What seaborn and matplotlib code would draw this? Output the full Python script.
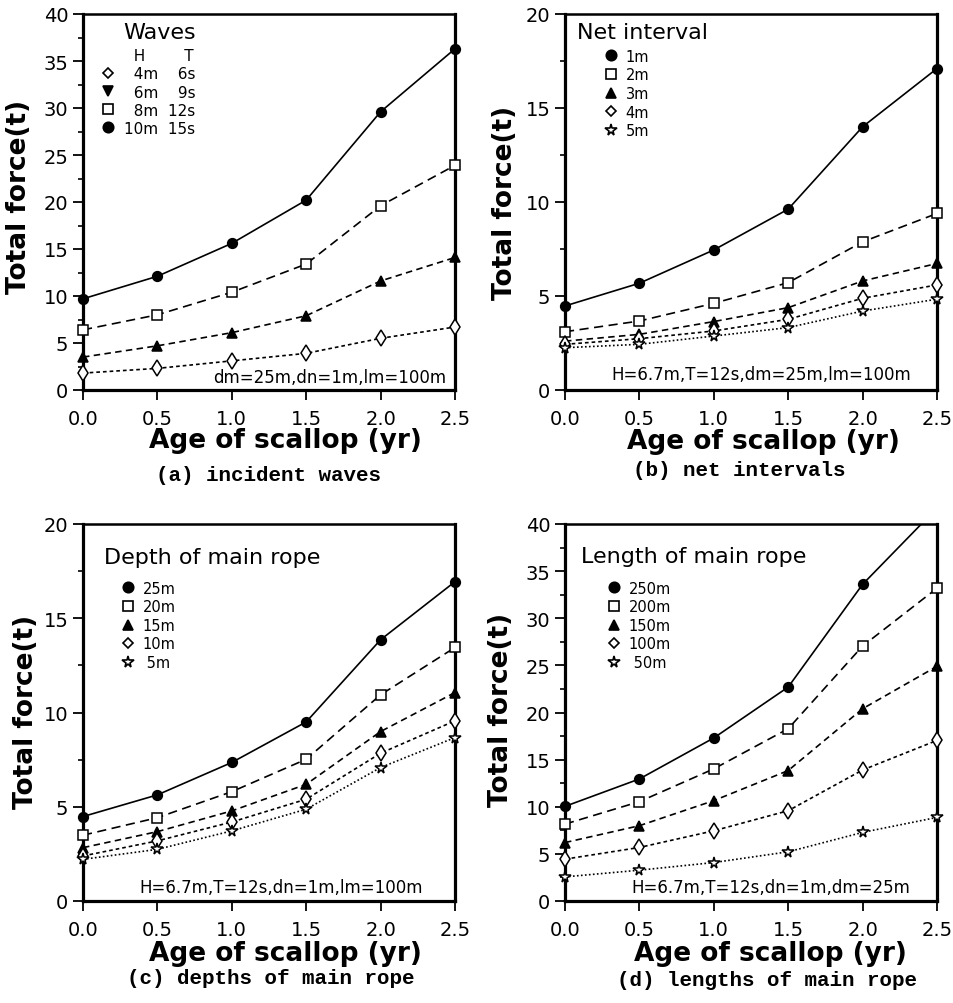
import matplotlib
matplotlib.use("Agg")
import matplotlib.pyplot as plt
from matplotlib.lines import Line2D
from matplotlib.patches import Rectangle
from matplotlib.ticker import MultipleLocator
import seaborn as sns

# ---------------- data ----------------
ages = [0.0, 0.5, 1.0, 1.5, 2.0, 2.5]

# (a) incident waves
wave_H = ["4m", "6m", "8m", "10m"]
wave_T = ["6s", "9s", "12s", "15s"]
wave_4m = [1.8, 2.3, 3.1, 3.9, 5.5, 6.7]
wave_6m = [3.5, 4.7, 6.1, 7.9, 11.6, 14.1]
wave_8m = [6.4, 8.0, 10.4, 13.4, 19.6, 23.9]
wave_10m = [9.7, 12.1, 15.6, 20.2, 29.6, 36.3]

# (b) net intervals
net_labels = ["1m", "2m", "3m", "4m", "5m"]
net_1m = [4.47, 5.68, 7.45, 9.62, 14.0, 17.1]
net_2m = [3.10, 3.67, 4.61, 5.71, 7.88, 9.39]
net_3m = [2.60, 2.96, 3.64, 4.38, 5.80, 6.73]
net_4m = [2.43, 2.73, 3.14, 3.76, 4.88, 5.59]
net_5m = [2.25, 2.43, 2.87, 3.32, 4.20, 4.83]

# (c) depths of main rope
depth_labels = ["25m", "20m", "15m", "10m", " 5m"]
depth_25 = [4.48, 5.63, 7.35, 9.50, 13.86, 16.94]
depth_20 = [3.49, 4.42, 5.80, 7.52, 10.94, 13.45]
depth_15 = [2.83, 3.68, 4.78, 6.19, 8.99, 11.06]
depth_10 = [2.39, 3.19, 4.19, 5.40, 7.84, 9.56]
depth_5 = [2.21, 2.74, 3.72, 4.87, 7.08, 8.67]

# (d) lengths of main rope
length_labels = ["250m", "200m", "150m", "100m", " 50m"]
len_250 = [10.04, 12.95, 17.3, 22.7, 33.6, 41.7]
len_200 = [8.16, 10.54, 14.02, 18.28, 27.05, 33.19]
len_150 = [6.20, 7.99, 10.65, 13.84, 20.4, 24.9]
len_100 = [4.44, 5.68, 7.45, 9.58, 13.9, 17.04]
len_50 = [2.56, 3.27, 4.08, 5.22, 7.28, 8.87]

x_ticks = [0.0, 0.5, 1.0, 1.5, 2.0, 2.5]

# ---------------- style ----------------
sns.set_style("ticks")
plt.rcParams["font.family"] = ["DejaVu Sans"]
for key in ["text.color", "axes.labelcolor", "xtick.color", "ytick.color",
            "axes.edgecolor"]:
    plt.rcParams[key] = "black"

LW = 1.2
STY = {
    "circle":   dict(marker="o", ms=7.0, fc="black", ls="-"),
    "square":   dict(marker="s", ms=6.5, fc="white", ls=(0, (5.5, 3.3))),
    "triangle": dict(marker="^", ms=7.0, fc="black", ls=(0, (3.9, 2.6))),
    "diamond":  dict(marker="d", ms=8.5, fc="white", ls=(0, (2.2, 1.8))),
    "star":     dict(marker="*", ms=8.5, fc="white", ls=(0, (1.0, 1.4))),
}
LEG_MARK = {"circle": ("o", 7.5), "square": ("s", 7), "triangle": ("^", 7),
            "diamond": ("D", 5.5), "star": ("*", 8.5), "tri_down": ("v", 7)}

fig = plt.figure(figsize=(9.54, 10.04), dpi=100)
W, H = 954.0, 1004.0


def make_ax(l, t, r, b):
    return fig.add_axes([l / W, 1 - b / H, (r - l) / W, (b - t) / H])


axA = make_ax(83, 15, 455, 391)
axB = make_ax(565, 15, 937, 391)
axC = make_ax(83, 525, 455, 902)
axD = make_ax(565, 525, 937, 902)


def draw_series(ax, y, kind):
    s = STY[kind]
    sns.lineplot(x=ages, y=y, ax=ax, color="black", marker=s["marker"],
                 markersize=s["ms"], markerfacecolor=s["fc"],
                 markeredgecolor="black", markeredgewidth=1.1,
                 linestyle=s["ls"], linewidth=LW, zorder=3)
    line = ax.lines[-1]
    clip = Rectangle((-0.05, -0.05), 1.1, 1.05, transform=ax.transAxes)
    line.set_clip_path(clip)


def style_axes(ax, ymax, ymajor):
    ax.set_xlim(0, 2.5)
    ax.set_ylim(0, ymax)
    ax.set_xticks(x_ticks)
    ax.set_xticklabels([f"{v:.1f}" for v in x_ticks])
    ax.yaxis.set_major_locator(MultipleLocator(ymajor))
    ax.yaxis.set_minor_locator(MultipleLocator(ymajor / 2))
    ax.tick_params(axis="y", which="major", direction="out", length=7,
                   width=1.3, pad=3.5, labelsize=14)
    ax.tick_params(axis="y", which="minor", direction="out", length=3.5,
                   width=1.2)
    ax.tick_params(axis="x", which="major", direction="out", length=7.5,
                   width=1.3, pad=6.5, labelsize=14)
    for sp in ["left", "right", "bottom"]:
        ax.spines[sp].set_linewidth(2.3)
        ax.spines[sp].set_visible(True)
    ax.spines["top"].set_visible(True)
    ax.spines["top"].set_linewidth(1.8)
    ax.set_facecolor("white")


def labels(ax, xl_pos, yl_pos, cap_pos, caption):
    ax.set_xlabel("Age of scallop (yr)", fontsize=19, fontweight="bold")
    ax.xaxis.set_label_coords(*xl_pos)
    ax.xaxis.label.set_verticalalignment("center")
    ax.set_ylabel("Total force(t)", fontsize=19, fontweight="bold")
    ax.yaxis.set_label_coords(*yl_pos)
    ax.yaxis.label.set_verticalalignment("center")
    ax.text(cap_pos[0], cap_pos[1], caption, transform=ax.transAxes,
            ha="center", va="center", fontsize=15, fontweight="bold",
            family=["Liberation Mono", "DejaVu Sans Mono"])


def handle(kind):
    m, ms = LEG_MARK[kind]
    fc = "black" if kind in ("circle", "triangle", "tri_down") else "white"
    return Line2D([], [], linestyle="none", marker=m, markersize=ms,
                  markerfacecolor=fc, markeredgecolor="black",
                  markeredgewidth=1.2, color="black")


FS = "\u2007"  # figure space (digit width)


def pad(s, n):
    return FS * (n - len(s)) + s


# ---------- (a) ----------
draw_series(axA, wave_10m, "circle")
draw_series(axA, wave_8m, "square")
draw_series(axA, wave_6m, "triangle")
draw_series(axA, wave_4m, "diamond")
style_axes(axA, 40, 5)
labels(axA, (0.543, -0.132), (-0.172, 0.515), (0.5, -0.226),
       "(a) incident waves")
axA.text(0.1075, 0.952, "Waves", transform=axA.transAxes, ha="left",
         va="center", fontsize=16)
hA = [Line2D([], [], linestyle="none")] + [handle(k) for k in
                                             ["diamond", "tri_down", "square", "circle"]]
lA = [FS + "H" + "   " + FS + FS + " T"] + [
    pad(h, 3) + "  " + pad(t, 3) for h, t in zip(wave_H, wave_T)]
axA.legend(hA, lA, loc="upper left", bbox_to_anchor=(0.048, 0.9085),
           borderaxespad=0, borderpad=0, frameon=False, fontsize=11,
           handlelength=1.0, handletextpad=0.5, labelspacing=0.2)
axA.text(0.663, 0.035, "dm=25m,dn=1m,lm=100m", transform=axA.transAxes,
         ha="center", va="center", fontsize=12)

# ---------- (b) ----------
for y, k in zip([net_1m, net_2m, net_3m, net_4m, net_5m],
                ["circle", "square", "triangle", "diamond", "star"]):
    draw_series(axB, y, k)
style_axes(axB, 20, 5)
labels(axB, (0.534, -0.135), (-0.161, 0.5), (0.468, -0.212),
       "(b) net intervals")
axB.text(0.032, 0.952, "Net interval", transform=axB.transAxes, ha="left",
         va="center", fontsize=16)
axB.legend([handle(k) for k in ["circle", "square", "triangle", "diamond", "star"]],
           net_labels, loc="upper left", bbox_to_anchor=(0.104, 0.908),
           borderaxespad=0, borderpad=0, frameon=False, fontsize=10.5,
           handlelength=1.0, handletextpad=0.5, labelspacing=0.25)
axB.text(0.528, 0.043, "H=6.7m,T=12s,dm=25m,lm=100m", transform=axB.transAxes,
         ha="center", va="center", fontsize=12)

# ---------- (c) ----------
for y, k in zip([depth_25, depth_20, depth_15, depth_10, depth_5],
                ["circle", "square", "triangle", "diamond", "star"]):
    draw_series(axC, y, k)
style_axes(axC, 20, 5)
labels(axC, (0.543, -0.138), (-0.152, 0.503), (0.505, -0.2036),
       "(c) depths of main rope")
axC.text(0.056, 0.912, "Depth of main rope", transform=axC.transAxes,
         ha="left", va="center", fontsize=16)
axC.legend([handle(k) for k in ["circle", "square", "triangle", "diamond", "star"]],
           depth_labels, loc="upper left", bbox_to_anchor=(0.101, 0.85),
           borderaxespad=0, borderpad=0, frameon=False, fontsize=10.5,
           handlelength=1.0, handletextpad=0.5, labelspacing=0.25)
axC.text(0.532, 0.037, "H=6.7m,T=12s,dn=1m,lm=100m", transform=axC.transAxes,
         ha="center", va="center", fontsize=12)

# ---------- (d) ----------
for y, k in zip([len_250, len_200, len_150, len_100, len_50],
                ["circle", "square", "triangle", "diamond", "star"]):
    draw_series(axD, y, k)
style_axes(axD, 40, 5)
labels(axD, (0.553, -0.138), (-0.172, 0.509), (0.543, -0.209),
       "(d) lengths of main rope")
axD.text(0.043, 0.915, "Length of main rope", transform=axD.transAxes,
         ha="left", va="center", fontsize=16)
axD.legend([handle(k) for k in ["circle", "square", "triangle", "diamond", "star"]],
           length_labels, loc="upper left", bbox_to_anchor=(0.112, 0.85),
           borderaxespad=0, borderpad=0, frameon=False, fontsize=10.5,
           handlelength=1.0, handletextpad=0.5, labelspacing=0.25)
axD.text(0.552, 0.037, "H=6.7m,T=12s,dn=1m,dm=25m", transform=axD.transAxes,
         ha="center", va="center", fontsize=12)

fig.savefig("out.png", dpi=100, facecolor="white")
